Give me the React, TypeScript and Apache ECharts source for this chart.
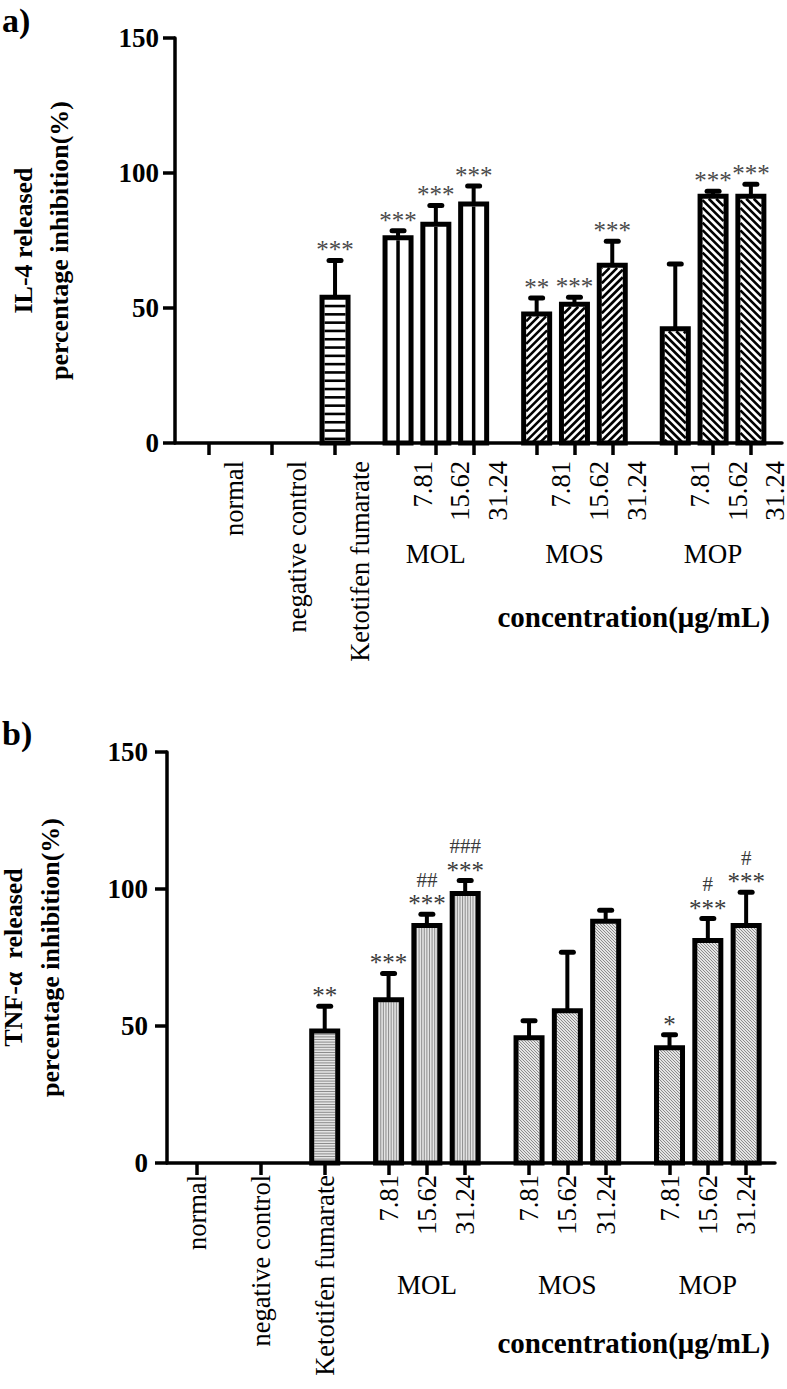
import React, { useEffect, useRef } from 'react';
import * as echarts from 'echarts';

// ---------- data ----------
const categories = ['normal', 'negative control', 'Ketotifen fumarate', '7.81', '15.62', '31.24', '7.81', '15.62', '31.24', '7.81', '15.62', '31.24'];
const groups = ['MOL', 'MOS', 'MOP'];
const yTicks = [0, 50, 100, 150];

const il4Mean = [0, 0, 54, 76, 81, 88.5, 47.8, 51.4, 65.8, 42.3, 91.4, 91.4];
const il4Err = [0, 0, 13.6, 2.6, 7, 6.7, 5.9, 2.6, 8.9, 24, 1.8, 4.4];
const il4Sig = ['', '', '***', '***', '***', '***', '**', '***', '***', '', '***', '***'];

const tnfMean = [0, 0, 48.2, 59.6, 86.7, 98.4, 45.7, 55.6, 88.2, 42.1, 81.2, 86.7];
const tnfErr = [0, 0, 9, 9.6, 4.1, 4.7, 6.2, 21.3, 4, 4.7, 8, 12.1];
const tnfSig = ['', '', '**', '***', '***', '***', '', '', '', '*', '***', '***'];
const tnfHash = ['', '', '', '', '##', '###', '', '', '', '', '#', '#'];

// ---------- layout / style ----------
const SLOTS = [0, 5, 10, 15, 18, 21, 26, 29, 32, 37, 40, 43];
const GROUP_SLOTS = [18, 29, 40];
const PATTERN = ['none', 'none', 'h', 'v', 'v', 'v', 'd1', 'd1', 'd1', 'd2', 'd2', 'd2'];
const SERIF = "'Liberation Serif', 'Times New Roman', serif";
const BAR_W = 26;
const BORDER = 5;

type Theme = {
  bg: string;
  line: string;
  lw: number;
  step: Record<string, number>;
  pattern: string[];
  sigColor: string;
};

const topTheme: Theme = {
  bg: '#ffffff',
  line: '#000000',
  lw: 2.6,
  step: { h: 8.3, v: 12, d1: 7.5, d2: 7.5 },
  pattern: PATTERN,
  sigColor: '#4a4a4a',
};
const bottomTheme: Theme = {
  bg: '#e4e4e4',
  line: '#8c8c8c',
  lw: 1,
  step: { h: 2.6, v: 2.6, d1: 3, d2: 3 },
  pattern: ['none', 'none', 'h', 'v', 'v', 'v', 'd2', 'd2', 'd2', 'd2', 'd2', 'd2'],
  sigColor: '#3a3a3a',
};

function hatch(kind: string, x0: number, y0: number, x1: number, y1: number, step: number, color: string, lw: number) {
  const out: any[] = [];
  const st = { stroke: color, lineWidth: lw };
  if (kind === 'h') {
    for (let y = y1 - step / 2; y > y0; y -= step) {
      out.push({ type: 'line', shape: { x1: x0, y1: y, x2: x1, y2: y }, style: st });
    }
  } else if (kind === 'v') {
    const cx = (x0 + x1) / 2;
    for (let k = -20; k <= 20; k++) {
      const x = cx + k * step;
      if (x > x0 && x < x1) out.push({ type: 'line', shape: { x1: x, y1: y0, x2: x, y2: y1 }, style: st });
    }
  } else if (kind === 'd1') {
    // x + y = c  ("/")
    for (let c = Math.ceil((x0 + y0) / step) * step; c < x1 + y1; c += step) {
      const xa = Math.max(x0, c - y1);
      const xb = Math.min(x1, c - y0);
      if (xb > xa) out.push({ type: 'line', shape: { x1: xa, y1: c - xa, x2: xb, y2: c - xb }, style: st });
    }
  } else if (kind === 'd2') {
    // y - x = c  ("\")
    for (let c = Math.ceil((y0 - x1) / step) * step; c < y1 - x0; c += step) {
      const xa = Math.max(x0, y0 - c);
      const xb = Math.min(x1, y1 - c);
      if (xb > xa) out.push({ type: 'line', shape: { x1: xa, y1: xa + c, x2: xb, y2: xb + c }, style: st });
    }
  }
  return out;
}

function barSeries(xAxisIndex: number, yAxisIndex: number, means: number[], errs: number[], sig: string[], hash: string[] | null, theme: Theme) {
  const data = means.map((m, i) => [SLOTS[i], m, errs[i], i]);
  return {
    type: 'custom',
    xAxisIndex,
    yAxisIndex,
    data,
    encode: { x: 0, y: 1 },
    clip: false,
    z: 3,
    renderItem: (params: any, api: any) => {
      const x = api.value(0);
      const v = api.value(1);
      const e = api.value(2);
      const i = api.value(3);
      if (!v) return { type: 'group', children: [] };
      const [cx, yBase] = api.coord([x, 0]);
      const yTop = api.coord([x, v])[1];
      const yErr = api.coord([x, v + e])[1];
      const half = BAR_W / 2;
      const children: any[] = [];
      children.push({ type: 'rect', shape: { x: cx - half, y: yTop, width: BAR_W, height: yBase - yTop }, style: { fill: theme.bg, stroke: 'none' } });
      const kind = theme.pattern[i];
      const ins = BORDER / 2;
      children.push(...hatch(kind, cx - half + ins, yTop + ins, cx + half - ins, yBase, theme.step[kind] || 5, theme.line, kind === 'v' && theme.lw > 2 ? 3.5 : theme.lw));
      children.push({ type: 'rect', shape: { x: cx - half, y: yTop, width: BAR_W, height: yBase - yTop }, style: { fill: 'none', stroke: '#000', lineWidth: BORDER } });
      if (e > 0) {
        children.push({ type: 'line', shape: { x1: cx, y1: yTop, x2: cx, y2: yErr }, style: { stroke: '#000', lineWidth: 4 } });
        children.push({ type: 'line', shape: { x1: cx - 6, y1: yErr, x2: cx + 6, y2: yErr }, style: { stroke: '#000', lineWidth: 5, lineCap: 'round' } });
      }
      if (sig[i]) {
        children.push({
          type: 'text', x: cx, y: yErr + 2,
          style: { text: sig[i], fill: theme.sigColor, fontSize: 25, fontFamily: SERIF, align: 'center', verticalAlign: 'bottom' },
        });
      }
      if (hash && hash[i]) {
        children.push({
          type: 'text', x: cx, y: yErr - 24,
          style: { text: hash[i], fill: theme.sigColor, fontSize: 21, fontFamily: SERIF, align: 'center', verticalAlign: 'bottom' },
        });
      }
      return { type: 'group', children };
    },
  };
}

function xMainAxis(gridIndex: number, min: number, max: number, labelShift: number, margin: number) {
  const labelVals = SLOTS.map((s) => s + labelShift);
  return {
    type: 'value', gridIndex, min, max, position: 'bottom',
    axisLine: { show: true, onZero: false, lineStyle: { color: '#000', width: 3.5 } },
    axisTick: { show: true, customValues: SLOTS, length: 12, lineStyle: { color: '#000', width: 3.5 } },
    axisLabel: {
      show: true, customValues: labelVals, rotate: 90, margin,
      fontFamily: SERIF, fontSize: 26.5, color: '#000',
      formatter: (val: number) => {
        const k = labelVals.findIndex((s) => Math.abs(s - val) < 1e-6);
        return k >= 0 ? categories[k] : '';
      },
    },
    splitLine: { show: false },
  };
}

function xGroupAxis(gridIndex: number, min: number, max: number, margin: number) {
  return {
    type: 'value', gridIndex, min, max, position: 'bottom',
    axisLine: { show: false, onZero: false },
    axisTick: { show: false },
    splitLine: { show: false },
    axisLabel: {
      show: true, customValues: GROUP_SLOTS, margin,
      fontFamily: SERIF, fontSize: 27, color: '#000',
      formatter: (val: number) => {
        const k = GROUP_SLOTS.findIndex((s) => Math.abs(s - val) < 1e-6);
        return k >= 0 ? groups[k] : '';
      },
    },
  };
}

function yAxis(gridIndex: number, name: string, nameGap: number, lineHeight: number, labelMargin: number) {
  return {
    type: 'value', gridIndex, min: yTicks[0], max: yTicks[yTicks.length - 1], interval: 50,
    name, nameLocation: 'middle', nameRotate: 90, nameGap,
    nameTextStyle: { fontFamily: SERIF, fontSize: 26, fontWeight: 'bold', color: '#000', lineHeight },
    axisLine: { show: true, onZero: false, lineStyle: { color: '#000', width: 3.5 } },
    axisTick: { show: true, length: 12, lineStyle: { color: '#000', width: 3.5 } },
    axisLabel: { fontFamily: SERIF, fontSize: 27, fontWeight: 'bold', color: '#000', margin: labelMargin },
    splitLine: { show: false },
  };
}

export default function App() {
  const ref = useRef<HTMLDivElement>(null);
  useEffect(() => {
    if (!ref.current) return;
    const chart = echarts.init(ref.current, undefined, { renderer: 'svg' });
    const option: any = {
      animation: false,
      backgroundColor: '#ffffff',
      grid: [
        { left: 175, top: 38, width: 607, height: 405, outerBoundsMode: 'none', containLabel: false },
        { left: 167, top: 752, width: 608, height: 411, outerBoundsMode: 'none', containLabel: false },
      ],
      xAxis: [
        xMainAxis(0, -2.7, 45.47, 1.95, 18),
        xGroupAxis(0, -2.7, 45.47, 97),
        xMainAxis(1, -2.35, 45.26, 0, 12),
        xGroupAxis(1, -2.35, 45.26, 108),
      ],
      yAxis: [
        yAxis(0, 'IL-4 released\npercentage inhibition(%)', 98, 36, 16),
        yAxis(1, 'TNF-\u03b1  released\npercentage inhibition(%)', 98, 37, 19),
      ],
      series: [
        barSeries(0, 0, il4Mean, il4Err, il4Sig, null, topTheme),
        barSeries(2, 1, tnfMean, tnfErr, tnfSig, tnfHash, bottomTheme),
      ],
      graphic: [
        { type: 'text', x: 2, y: 20, style: { text: 'a)', fontSize: 34, fontWeight: 'bold', fontFamily: SERIF, fill: '#000', verticalAlign: 'middle' } },
        { type: 'text', x: 2, y: 733, style: { text: 'b)', fontSize: 34, fontWeight: 'bold', fontFamily: SERIF, fill: '#000', verticalAlign: 'middle' } },
        { type: 'text', x: 770, y: 617, style: { text: 'concentration(\u03bcg/mL)', fontSize: 29, fontWeight: 'bold', fontFamily: SERIF, fill: '#000', align: 'right', verticalAlign: 'middle' } },
        { type: 'text', x: 770, y: 1343, style: { text: 'concentration(\u03bcg/mL)', fontSize: 29, fontWeight: 'bold', fontFamily: SERIF, fill: '#000', align: 'right', verticalAlign: 'middle' } },
      ],
    };
    chart.setOption(option);
    return () => chart.dispose();
  }, []);
  return <div ref={ref} style={{ position: 'absolute', left: 0, top: 0, width: 787, height: 1389, background: '#fff' }} />;
}
